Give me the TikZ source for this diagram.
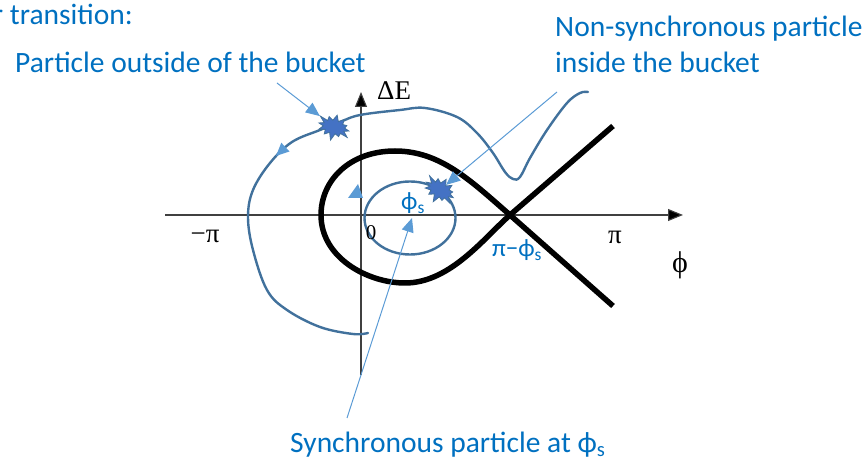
\documentclass[tikz,border=0pt]{standalone}
\usepackage{fontspec}
\setmainfont{Carlito}
\newfontfamily\axisfont{Liberation Serif}
\usetikzlibrary{arrows.meta,shapes.symbols}
\definecolor{trajblue}{RGB}{65,113,156}
\definecolor{ptrblue}{RGB}{91,155,213}
\definecolor{txtblue}{RGB}{0,112,192}
\definecolor{burstblue}{RGB}{68,114,196}

\begin{document}
\begin{tikzpicture}[x=1pt,y=-1pt,
 ax/.style={draw=black!75,line width=1.1pt,-{Triangle[length=15pt,width=12pt,fill=black]}},
 traj/.style={draw=trajblue,line width=2.4pt,line cap=round},
 sepx/.style={draw=black,line width=5.5pt,line join=round},
 pointer/.style={draw=ptrblue,line width=1pt,-{Triangle[length=14pt,width=12pt]}},
 burst/.style={starburst,starburst points=12,starburst point height=8pt,fill=burstblue,draw=trajblue,line width=0.8pt,minimum width=38pt,minimum height=29pt,inner sep=0pt},
 lbl/.style={text=txtblue,font=\fontsize{29.5}{36}\selectfont,inner sep=0pt},
 axlbl/.style={font=\axisfont\fontsize{27}{28}\selectfont,inner sep=0pt}]
\useasboundingbox (0,0) rectangle (863,462);
% axes
\coordinate (xl) at (165,215);
\coordinate (xr) at (683,215);
\coordinate (yb) at (361,375);
\coordinate (yt) at (361,92);
\draw[ax] (xl) -- (xr);
\draw[ax] (yb) -- (yt);
% trajectories
\draw[traj] (410,218) ellipse [x radius=45.5,y radius=36.5];
\draw[traj] plot[smooth,tension=0.6] coordinates {(368,333) (353,334) (320,327) (287,310) (267,290) (253,250) (248,217) (253,190) (270,163) (292,142) (320,130) (340,122) (360,115) (400,110) (425,108) (457,117) (477,133) (493,153) (505,172) (513,179) (520,177) (530,158) (547,130) (567,103) (580,93) (588,92)};
% separatrix
\coordinate (xpt) at (510,215);
\coordinate (ur) at (613,126);
\coordinate (lr) at (613,306);
\draw[sepx] (lr) -- (xpt) .. controls (470,180) and (440,151) .. (395,151) .. controls (350,151) and (321,180) .. (321,215) .. controls (321,258) and (368,283) .. (405,283) .. controls (450,283) and (484,238) .. (xpt) -- (ur);
% direction marks
\fill[ptrblue] (348,198) -- (363,198) -- (358,184) -- cycle;
\fill[ptrblue] (276,156) -- (289.5,151.5) -- (281.3,142.7) -- cycle;
% particles
\node[burst,rotate=-15] (burstout) at (334,127) {};
\node[burst,rotate=-30] (burstin) at (440,190) {};
\coordinate (outtail) at (277,83);
\coordinate (intail) at (557,92);
\coordinate (synctail) at (347,418);
\coordinate (syncpt) at (412,218);
\draw[pointer] (outtail) -- (burstout);
\draw[pointer] (intail) -- (burstin);
\draw[pointer] (synctail) -- (syncpt);
% labels
\node[axlbl,anchor=base west] (dE) at (377,100) {ΔE};
\node[axlbl,anchor=base] (pip) at (615,244) {π};
\node[axlbl,anchor=base] (pim) at (205,243) {−π};
\node[axlbl,font=\axisfont\fontsize{30}{30}\selectfont] (phi) at (680,265) {ϕ};
\node[axlbl,font=\axisfont\fontsize{21}{21}\selectfont,anchor=base] (zero) at (371,240) {0};
\node[lbl,font=\fontsize{25}{25}\selectfont] (phis) at (413,203) {ϕ\textsubscript{s}};
\node[lbl,font=\fontsize{25}{25}\selectfont] (sepph) at (517,250) {π−ϕ\textsubscript{s}};
\node[lbl,anchor=base east] (trans) at (133,25) {r transition:};
\node[lbl,anchor=base west] (outside) at (15,73) {Particle outside of the bucket};
\node[lbl,anchor=base west] (nonsync) at (555,37) {Non-synchronous particle};
\node[lbl,anchor=base west] (inside) at (555,73) {inside the bucket};
\node[lbl,anchor=base west] (sync) at (290,453) {Synchronous particle at ϕ\textsubscript{s}};
\end{tikzpicture}
\end{document}
